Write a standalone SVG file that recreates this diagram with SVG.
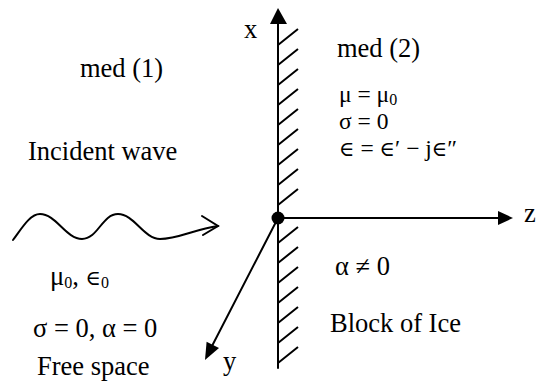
<svg xmlns="http://www.w3.org/2000/svg" width="539" height="383" viewBox="0 0 539 383">
<style>
  .t { font-family: "Liberation Serif", "Times New Roman", "DejaVu Serif", serif; font-size: 26.5px; fill: #000; }
  .p { font-size: 23.5px; }
  .s { font-size: 16px; }
  .e { font-size: 21px; }
  .ln { stroke: #000; stroke-width: 2; fill: none; stroke-linecap: round; }
  .h { stroke: #000; stroke-width: 2; fill: none; }
  .ah { fill: #000; stroke: none; }
</style>
<rect width="539" height="383" fill="#fff"/>
<g id="boundary">
  <path class="h" d="M278,45 l20,-16 M278,65 l20,-16 M278,85 l20,-16 M278,105 l20,-16 M278,125 l20,-16 M278,145 l20,-16 M278,165 l20,-16 M278,185 l20,-16 M278,205 l20,-16 M278,243 l20,-16 M278,263 l20,-16 M278,283 l20,-16 M278,303 l20,-16 M278,323 l20,-16 M278,343 l20,-16 M278,363 l20,-16"/>
</g>
<g id="connectors">
  <g id="x-axis">
    <line class="ln" x1="278" y1="368" x2="278" y2="20"/>
    <polygon class="ah" points="278,8 270,24 287,24"/>
  </g>
  <g id="z-axis">
    <line class="ln" x1="278" y1="218" x2="500" y2="218"/>
    <polygon class="ah" points="513,218 498,211 498,225"/>
  </g>
  <g id="y-axis">
    <line class="ln" x1="278" y1="218" x2="211" y2="348"/>
    <polygon class="ah" points="205,360 219,348 206.6,341.7"/>
  </g>
  <g id="incident-wave">
    <path class="ln" d="M13,240 C22,228 30,214 40,214 C56,214 66,239 82,239 C98,239 102,214 118,214 C134,214 144,239 160,239 C178,239 195,229 218,226"/>
    <polyline class="ln" points="202,216 218,226 203,235"/>
  </g>
  <circle id="origin" cx="278" cy="218" r="6.5" fill="#000"/>
</g>
<g id="labels">
  <text class="t" x="244" y="38">x</text>
  <text class="t" x="524" y="222">z</text>
  <text class="t" x="223" y="370">y</text>
  <text class="t" x="80" y="77">med (1)</text>
  <text class="t" x="337" y="57">med (2)</text>
  <text class="t p" x="339" y="102">μ = μ<tspan class="s" dy="3">0</tspan></text>
  <text class="t p" x="339" y="129">σ = 0</text>
  <text class="t p" x="339" y="156"><tspan class="e">∈</tspan> = <tspan class="e">∈</tspan>′ − j<tspan class="e">∈</tspan>″</text>
  <text class="t" x="28" y="160">Incident wave</text>
  <text class="t" x="50" y="285">μ<tspan class="s" dy="3">0</tspan><tspan dy="-3">, </tspan><tspan class="e">∈</tspan><tspan class="s" dy="3">0</tspan></text>
  <text class="t" x="33" y="337">σ = 0, α = 0</text>
  <text class="t" x="37" y="375">Free space</text>
  <text class="t" x="335" y="275">α ≠ 0</text>
  <text class="t" x="330" y="332">Block of Ice</text>
</g>
</svg>
